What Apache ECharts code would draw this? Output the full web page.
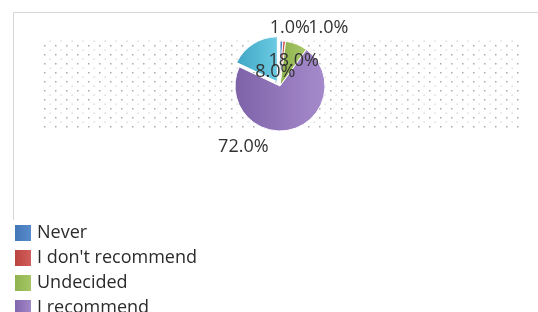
<!DOCTYPE html>
<html>
<head>
<meta charset="utf-8">
<script src="https://cdn.jsdelivr.net/npm/echarts@6/dist/echarts.min.js"></script>
<style>
  html, body { margin: 0; padding: 0; background: #fff; }
  #chart { width: 538px; height: 312px; }
</style>
</head>
<body>
<div id="chart"></div>
<script>
// Survey answers, clockwise from 12 o'clock
const categories = ['Never', "I don't recommend", 'Undecided', 'I recommend', 'I strongly recommend'];
const shares = [1, 1, 8, 72, 18];
const sliceColors = [
  ['#3f73b3', '#5b8fd0'],
  ['#b8403d', '#d4625e'],
  ['#8db04a', '#a9c96a'],
  ['#7e62a8', '#a68bcc'],
  ['#3fa6c4', '#6ccbe3']
];
// label nudges from the library's inside position, in px
const labelShift = [[9, -33], [46, -33], [-14, 10], [-43, 36], [30, 1]];

// dotted fill of the plot area
function dotPattern() {
  const c = document.createElement('canvas');
  c.width = 11;
  c.height = 9;
  const ctx = c.getContext('2d');
  ctx.fillStyle = 'rgba(100,100,100,0.55)';
  ctx.fillRect(0, 0, 1.5, 1.5);
  ctx.fillStyle = 'rgba(140,140,140,0.4)';
  ctx.fillRect(5.5, 4.5, 1.3, 1.3);
  return c;
}

const chart = echarts.init(document.getElementById('chart'));

const option = {
  backgroundColor: '#fff',
  animation: false,
  graphic: [
    {
      type: 'rect',
      z: -1,
      shape: {x: 40, y: 38, width: 480, height: 92},
      style: {fill: {image: dotPattern(), repeat: 'repeat'}}
    },
    {
      type: 'polyline',
      z: -1,
      shape: {points: [[13.5, 220], [13.5, 12.5], [538, 12.5]]},
      style: {stroke: '#d6d6d6', lineWidth: 1, fill: null}
    }
  ],
  legend: {
    orient: 'vertical',
    left: 8,
    top: 218,
    height: 300,
    icon: 'rect',
    itemWidth: 18,
    itemHeight: 18,
    itemGap: 5,
    textStyle: {fontFamily: 'Open Sans', fontSize: 18, color: '#2b2b2b', padding: [0, 0, 0, 0]},
    data: categories
  },
  series: [{
    type: 'pie',
    center: [280, 86],
    radius: 45,
    startAngle: 90,
    clockwise: true,
    selectedMode: 'single',
    selectedOffset: 5,
    avoidLabelOverlap: false,
    itemStyle: {borderColor: '#fff', borderWidth: 1},
    label: {
      position: 'inside',
      fontFamily: 'Open Sans',
      fontSize: 18,
      color: '#333',
      formatter: p => p.value.toFixed(1) + '%'
    },
    labelLine: {show: false},
    labelLayout: function (p) {
      const s = labelShift[p.dataIndex];
      return {dx: s[0], dy: s[1]};
    },
    emphasis: {disabled: true},
    data: categories.map((name, i) => ({
      name: name,
      value: shares[i],
      selected: i === 4,
      itemStyle: {
        color: new echarts.graphic.LinearGradient(0, 0, 1, 0, [
          {offset: 0, color: sliceColors[i][0]},
          {offset: 1, color: sliceColors[i][1]}
        ])
      }
    }))
  }]
};

chart.setOption(option);
</script>
</body>
</html>
